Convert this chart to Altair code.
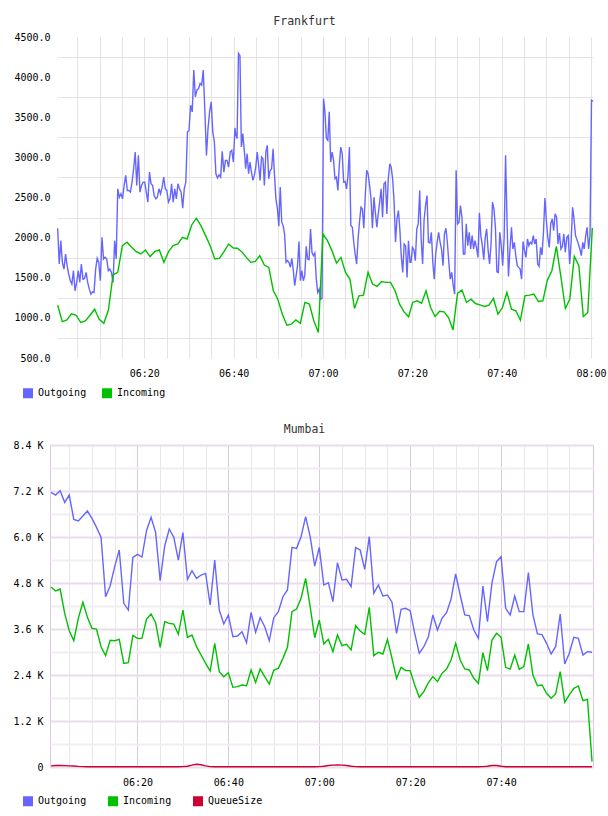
import altair as alt
import pandas as pd

DAY = "2024-01-01"
FONT = "DejaVu Sans Mono"

series_names = ["Outgoing", "Incoming", "QueueSize"]
series_colors = ["#6666ff", "#00c000", "#cc0033"]

# ---------------- Frankfurt ----------------
fra_out_a_span = ("06:00:37", "06:40:18")
fra_out_a = [2117, 1671, 1962, 1692, 1608, 1796, 1650, 1546, 1463, 1421,
             1588, 1338, 1442, 1588, 1442, 1671, 1483, 1492, 1567, 1442,
             1358, 1296, 1325, 1317, 1608, 1742, 1692, 1463, 2004, 1733,
             1754, 1733, 1588, 1608, 1567, 1442, 1962, 1733, 2608, 2504,
             2546, 2483, 2650, 2775, 2587, 2587, 2567, 2692, 2858, 3067,
             2650, 3025, 2567, 2650, 2692, 2692, 2567, 2442, 2817, 2671,
             2650, 2525, 2483, 2504, 2608, 2546, 2629, 2754, 2608, 2587,
             2442, 2483, 2671, 2442, 2608, 2483, 2671, 2608, 2567, 2367,
             2608, 2692, 3317, 3338, 3650, 3567, 4088, 3754, 3838, 3858,
             3921, 3900, 4088, 3567, 3025, 3358, 3567, 3692, 3317, 3192,
             2796, 2742, 2783, 2754, 3075, 2817, 2963, 2963, 2879, 3067,
             3088, 2942, 3367]
fra_out_b_span = ("06:40:27", "07:19:28")
fra_out_b = [3296, 3233, 4296, 4267, 3129, 3296, 3088, 2858, 3046, 2796,
             2942, 2817, 2713, 2775, 2879, 3067, 2900, 2713, 3004, 2983,
             2650, 3067, 3150, 2733, 2837, 2858, 3108, 2775, 2483, 2358,
             2142, 2629, 2192, 2150, 2046, 1692, 1713, 1692, 1629, 1742,
             1608, 1400, 1525, 1650, 1950, 1463, 1588, 1463, 1525, 1892,
             1733, 1725, 2108, 1817, 1775, 1808, 1483, 1317, 1358, 1233,
             1240, 3733, 3567, 3242, 3213, 3567, 2942, 3067, 2963, 2733,
             2754, 2587, 2900, 3129, 3046, 2692, 2700, 2608, 2775, 3129,
             2150, 2129, 1942, 1796, 1671, 1983, 2192, 2379, 2358, 2117,
             2525, 2838, 2796, 2650, 2483, 2117, 2504, 2317, 2129, 2296,
             2442, 2608, 2254, 2671, 2692, 2296, 2733, 2921, 2879, 2733,
             2442, 1942, 2233, 2338, 2108, 1775, 1567, 1921, 1900, 1504,
             1962, 1692]
fra_out_c_span = ("07:19:42", "08:00:26")
fra_out_c = [1692, 1879, 1850, 1713, 2108, 2171, 2588, 1983, 1671, 2213,
             2400, 2525, 1942, 1933, 2067, 1692, 1483, 1796, 1942, 2067,
             1942, 1858, 1650, 2046, 2117, 1942, 1692, 1483, 1567, 1400,
             1296, 2838, 2171, 2192, 2400, 2254, 1796, 1796, 2171, 1900,
             2067, 1858, 2025, 1858, 1962, 1879, 1754, 2308, 2025, 1900,
             1725, 2004, 2108, 1838, 1671, 1921, 2442, 2358, 2117, 1575,
             1567, 2067, 1900, 1650, 2004, 3025, 2192, 1517, 1858, 2129,
             1858, 1942, 1775, 1650, 1629, 1608, 1483, 1950, 1838, 1754,
             1983, 1900, 1942, 1921, 2025, 1921, 1983, 1671, 1642, 1879,
             1783, 2067, 2492, 2213, 2004, 1879, 2171, 2233, 2088, 2296,
             2254, 1921, 2058, 1858, 1892, 2046, 1817, 2004, 2025, 1671,
             1942, 2379, 2233, 2025, 1975, 1921, 1858, 1775, 1942, 1858,
             2025, 2129, 1858, 2025, 3712, 3700]

fra_in_a_span = ("06:00:37", "06:39:56")
fra_in_a = [1158, 954, 975, 1050, 1033, 942, 962, 1033, 1108, 983,
            933, 1100, 1537, 1567, 1900, 1942, 1879, 1825, 1796, 1846,
            1763, 1825, 1846, 1692, 1825, 1900, 1921, 2004, 1983, 2158,
            2242, 2150, 2025, 1900, 1733, 1742, 1825, 1921, 1871]
fra_in_b_span = ("06:40:49", "07:19:10")
fra_in_b = [1867, 1825, 1754, 1692, 1704, 1775, 1658, 1629, 1338, 1233,
            1046, 908, 921, 975, 933, 1192, 1171, 962, 817, 2046,
            1963, 1838, 1683, 1754, 1567, 1483, 1117, 1275, 1283, 1567,
            1421, 1392, 1454, 1442, 1442, 1338, 1171, 1075, 1013]
fra_in_c_span = ("07:20:04", "08:00:17")
fra_in_c = [1192, 1213, 1183, 1338, 1129, 1017, 1083, 1075, 1004, 850,
            1308, 1346, 1192, 1233, 1179, 1162, 1142, 1158, 1242, 1046,
            1129, 1317, 1108, 1088, 971, 1275, 1283, 1296, 1204, 1213,
            1471, 1588, 1892, 1517, 1117, 1233, 1767, 1650, 1017, 1067,
            2121]

fra_domain = ("06:00:28", "08:00:26")
fra_y_ticks = [500, 750, 1000, 1250, 1500, 1750, 2000, 2250, 2500, 2750,
               3000, 3250, 3500, 3750, 4000, 4250, 4500]
fra_x_ticks = ["06:05", "06:10", "06:15", "06:20", "06:25", "06:30", "06:35",
               "06:40", "06:45", "06:50", "06:55", "07:00", "07:05", "07:10",
               "07:15", "07:20", "07:25", "07:30", "07:35", "07:40", "07:45",
               "07:50", "07:55", "08:00"]

# ---------------- Mumbai ----------------
mum_start = "06:01"
mum_out = [7165, 7095, 7208, 6904, 7095, 6460, 6417, 6547, 6678, 6486,
           6252, 5991, 4443, 4730, 5226, 5660, 4269, 4095, 5469, 5547,
           5478, 6165, 6513, 6121, 4860, 5765, 6208, 5991, 5399, 6113,
           4895, 5121, 4921, 5008, 5052, 4226, 5399, 4095, 3730, 3965,
           3399, 3417, 3530, 3243, 4034, 3513, 3895, 3660, 3295, 3895,
           4052, 4443, 4617, 5730, 5704, 6008, 6530, 6008, 5243, 5730,
           4747, 4808, 4313, 5330, 4878, 4895, 4704, 5721, 5661, 5156,
           6008, 4530, 4748, 4461, 4487, 4300, 3487, 4113, 4139, 4078,
           3487, 2966, 3139, 3400, 3966, 3574, 3879, 4027, 4383, 5035,
           4487, 3966, 3948, 3574, 3357, 4722, 3792, 4809, 5356, 5487,
           4139, 3966, 4461, 4053, 4053, 5069, 3966, 3470, 3453, 3226,
           2948, 3139, 3992, 2687, 2966, 3383, 3357, 2922, 3009, 2992]
mum_in = [4695, 4591, 4643, 4008, 3556, 3295, 3878, 4295, 3904, 3617,
          3599, 3138, 2904, 3304, 3295, 3330, 2704, 2721, 3434, 3356,
          3356, 3860, 3991, 3765, 3121, 3791, 3747, 3730, 3460, 4095,
          3382, 3443, 3138, 2921, 2704, 2504, 3226, 2486, 2356, 2460,
          2078, 2095, 2139, 2121, 2530, 2208, 2556, 2356, 2165, 2530,
          2573, 2834, 3121, 4052, 4121, 4399, 4921, 4182, 3373, 3834,
          3208, 3331, 3009, 3444, 3166, 3200, 3053, 3687, 3548, 3461,
          4166, 2905, 2992, 2948, 3331, 2835, 2313, 2600, 2513, 2513,
          2139, 1818, 1966, 2200, 2357, 2226, 2444, 2557, 2792, 3226,
          2792, 2557, 2531, 2313, 2183, 2983, 2513, 3313, 3487, 3383,
          2600, 2557, 2922, 2548, 2618, 3209, 2400, 2122, 2139, 1922,
          1792, 1905, 2487, 1687, 1879, 2052, 2113, 1731, 1766, 139]
mum_queue = [30, 40, 40, 35, 30, 25, 15, 10, 5, 5,
             5, 5, 5, 5, 5, 5, 5, 5, 5, 5,
             5, 5, 5, 5, 5, 5, 5, 5, 5, 10,
             20, 50, 70, 60, 30, 10, 5, 5, 5, 5,
             5, 5, 5, 5, 5, 5, 5, 5, 5, 5,
             5, 5, 5, 5, 5, 5, 5, 5, 5, 10,
             20, 40, 50, 55, 50, 40, 20, 10, 5, 5,
             5, 5, 5, 5, 5, 5, 5, 5, 5, 5,
             5, 5, 5, 5, 5, 5, 5, 5, 5, 5,
             5, 5, 5, 5, 5, 10, 20, 40, 40, 20,
             5, 5, 5, 5, 5, 5, 5, 5, 5, 5,
             5, 5, 5, 5, 5, 5, 5, 5, 5, 5]

mum_domain = ("06:00:46", "08:00:13")
mum_y_ticks = [0, 600, 1200, 1800, 2400, 3000, 3600, 4200, 4800, 5400,
               6000, 6600, 7200, 7800, 8400]
mum_x_ticks = fra_x_ticks[:-1]

PANEL_W = 543      # both panels share one plot origin
FRA_INSET = 7      # Frankfurt's plotting area starts a little right of Mumbai's


def run(span, vals, name):
    t = pd.date_range(f"{DAY} {span[0]}", f"{DAY} {span[1]}", periods=len(vals))
    return pd.DataFrame({"time": t.strftime("%Y-%m-%dT%H:%M:%S"),
                         "value": vals, "series": name})


def dt(hhmmss):
    parts = [int(p) for p in hhmmss.split(":")] + [0]
    return alt.DateTime(year=2024, month=1, date=1, hours=parts[0],
                        minutes=parts[1], seconds=parts[2])


fra_df = pd.concat([
    run(fra_out_a_span, fra_out_a, "Outgoing"),
    run(fra_out_b_span, fra_out_b, "Outgoing"),
    run(fra_out_c_span, fra_out_c, "Outgoing"),
    run(fra_in_a_span, fra_in_a, "Incoming"),
    run(fra_in_b_span, fra_in_b, "Incoming"),
    run(fra_in_c_span, fra_in_c, "Incoming"),
], ignore_index=True)

mum_times = pd.date_range(f"{DAY} {mum_start}", periods=len(mum_out), freq="min")
mum_df = pd.concat([
    pd.DataFrame({"time": mum_times.strftime("%Y-%m-%dT%H:%M:%S"), "value": v, "series": n})
    for n, v in [("Outgoing", mum_out), ("Incoming", mum_in), ("QueueSize", mum_queue)]
], ignore_index=True)

X_LABEL_EXPR = "minutes(datum.value) % 20 == 0 ? timeFormat(datum.value, '%H:%M') : ''"


def legend(nser, lx, ly):
    return alt.Legend(title=None, orient="none", legendX=lx, legendY=ly,
                      direction="horizontal", columns=nser, gridAlign="all",
                      symbolType="square", symbolSize=25, symbolStrokeWidth=5,
                      labelFont=FONT, labelFontSize=10, labelColor="#000000",
                      labelOffset=5, columnPadding=7, padding=0)


fra_chart = alt.Chart(fra_df).mark_line().encode(
    x=alt.X("time:T", title=None,
            scale=alt.Scale(domain=[dt(fra_domain[0]), dt(fra_domain[1])],
                            range=[FRA_INSET, PANEL_W]),
            axis=alt.Axis(values=[dt(v) for v in fra_x_ticks], labelExpr=X_LABEL_EXPR,
                          grid=True, gridColor="#e3e3e3", ticks=False, domain=False,
                          labelFont=FONT, labelFontSize=10, labelColor="#000000",
                          labelPadding=10, labelFlush=False, labelOverlap=False)),
    y=alt.Y("value:Q", title=None,
            scale=alt.Scale(domain=[500, 4500], nice=False, zero=False),
            axis=alt.Axis(values=fra_y_ticks, offset=-FRA_INSET,
                          labelExpr="datum.value % 500 == 0 ? format(datum.value, '.1f') : ''",
                          grid=True, gridColor="#e3e3e3",
                          gridOpacity={"condition": {"test": "datum.value % 500 == 0", "value": 0}, "value": 1},
                          ticks=False, domain=False, labelFont=FONT, labelFontSize=10,
                          labelColor="#000000", labelPadding=7, labelOverlap=False)),
    color=alt.Color("series:N", sort=series_names[:2],
                    scale=alt.Scale(domain=series_names[:2], range=series_colors[:2]),
                    legend=legend(2, -27, 351)),
    strokeWidth=alt.value(1.4),
    order=alt.Order("series_order:Q"),
).transform_calculate(
    series_order="datum.series == 'Outgoing' ? 0 : 1"
).properties(
    width=PANEL_W, height=321,
    title=alt.TitleParams("Frankfurt", font=FONT, fontSize=11.5, fontWeight="normal",
                          color="#333333", anchor="middle", dx=-17, offset=5),
    view=alt.ViewBackground(stroke="transparent"),
)

mum_chart = alt.Chart(mum_df).mark_line().encode(
    x=alt.X("time:T", title=None,
            scale=alt.Scale(domain=[dt(mum_domain[0]), dt(mum_domain[1])]),
            axis=alt.Axis(values=[dt(v) for v in mum_x_ticks], labelExpr=X_LABEL_EXPR,
                          grid=True,
                          gridColor={"condition": {"test": "minutes(datum.value) % 20 == 0", "value": "#dcc8df"}, "value": "#ebe5ee"},
                          ticks=False, domain=False,
                          labelFont=FONT, labelFontSize=10, labelColor="#000000",
                          labelPadding=10, labelFlush=False, labelOverlap=False)),
    y=alt.Y("value:Q", title=None,
            scale=alt.Scale(domain=[0, 8400], nice=False),
            axis=alt.Axis(values=mum_y_ticks,
                          labelExpr="datum.value % 1200 == 0 ? (datum.value == 0 ? '0' : format(datum.value / 1000, '.1f') + ' K') : ''",
                          grid=True,
                          gridColor={"condition": {"test": "datum.value % 1200 == 0", "value": "#eadcec"}, "value": "#f1eef1"},
                          gridWidth=2,
                          ticks=False, domain=False, labelFont=FONT, labelFontSize=10,
                          labelColor="#000000", labelPadding=7, labelOverlap=False)),
    color=alt.Color("series:N", sort=series_names,
                    scale=alt.Scale(domain=series_names, range=series_colors),
                    legend=legend(3, -27, 351)),
    strokeWidth=alt.value(1.4),
).properties(
    width=PANEL_W, height=322,
    title=alt.TitleParams("Mumbai", font=FONT, fontSize=11.5, fontWeight="normal",
                          color="#333333", anchor="middle", dx=-17, offset=5),
    view=alt.ViewBackground(stroke="#dcc8df"),
)

chart = alt.vconcat(fra_chart, mum_chart, spacing=16).resolve_scale(
    x="independent", y="independent", color="independent"
).resolve_legend(color="independent").properties(
    padding={"left": 12, "top": 15, "right": 0, "bottom": 0}
).configure(background="#ffffff")

chart.save("out.html", embed_options={"renderer": "svg", "actions": False})
